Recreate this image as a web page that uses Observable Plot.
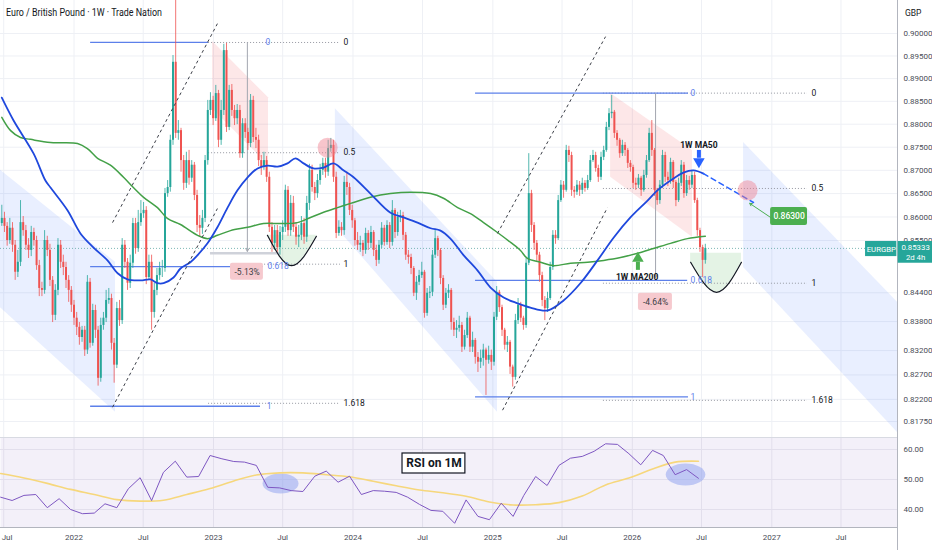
<!DOCTYPE html>
<html>
<head>
<meta charset="utf-8">
<script src="https://cdn.jsdelivr.net/npm/d3@7"></script>
<script src="https://cdn.jsdelivr.net/npm/@observablehq/plot@0.6"></script>
<style>
html,body{margin:0;padding:0;background:#fff;}
#wrap{position:relative;width:932px;height:550px;overflow:hidden;font-family:Roboto,"Liberation Sans",sans-serif;}
#wrap svg{display:block;}
#title{position:absolute;left:6px;top:7px;font-size:10px;color:#131722;white-space:nowrap;transform-origin:left top;}
#gbp{position:absolute;left:905px;top:8px;font-size:8.5px;color:#131722;}
</style>
</head>
<body>
<div id="wrap"><div id="main"></div><div id="rsi"></div><div id="title">Euro / British Pound · 1W · Trade Nation</div><div id="gbp">GBP</div></div>
<script>
// ---------- DATA (EURGBP weekly) ----------
const firstOpen = 0.8586;
const closes = [
.8597,.8580,.8550,.8576,.8540,.8483,.8504,.8588,.8571,.8540,
.8529,.8567,.8550,.8497,.8449,.8445,.8550,.8529,.8466,.8393,
.8445,.8540,.8504,.8493,.8466,.8445,.8414,.8387,.8368,.8347,
.8362,.8321,.8462,.8335,.8403,.8362,.8263,.8372,.8387,.8424,
.8428,.8335,.8290,.8407,.8382,.8540,.8504,.8460,.8502,.8586,
.8533,.8588,.8607,.8614,.8472,.8504,.8399,.8445,.8476,.8491,
.8491,.8650,.8663,.8765,.8936,.8780,.8786,.8721,.8672,.8721,
.8683,.8711,.8646,.8582,.8576,.8597,.8721,.8830,.8852,.8812,
.8867,.8765,.8830,.8962,.8793,.8874,.8830,.8812,.8830,.8736,
.8801,.8782,.8758,.8852,.8771,.8765,.8721,.8706,.8721,.8685,
.8578,.8544,.8571,.8535,.8567,.8578,.8657,.8571,.8629,.8578,
.8557,.8561,.8586,.8557,.8629,.8700,.8663,.8650,.8678,.8700,
.8715,.8696,.8747,.8754,.8685,.8565,.8578,.8571,.8674,.8663,
.8614,.8592,.8550,.8540,.8544,.8529,.8565,.8544,.8567,.8529,
.8508,.8540,.8576,.8546,.8582,.8546,.8614,.8567,.8599,.8603,
.8561,.8519,.8514,.8491,.8439,.8462,.8476,.8483,.8397,.8439,
.8441,.8519,.8554,.8529,.8470,.8414,.8439,.8445,.8378,.8362,
.8366,.8372,.8327,.8351,.8387,.8327,.8341,.8306,.8296,.8304,
.8321,.8300,.8310,.8296,.8389,.8441,.8409,.8362,.8331,.8337,
.8286,.8265,.8382,.8414,.8387,.8372,.8502,.8650,.8582,.8544,
.8519,.8476,.8424,.8407,.8428,.8493,.8561,.8554,.8635,.8668,
.8657,.8743,.8732,.8657,.8653,.8668,.8657,.8672,.8661,.8678,
.8721,.8732,.8704,.8685,.8728,.8743,.8793,.8823,.8826,.8780,
.8765,.8736,.8754,.8743,.8715,.8706,.8672,.8668,.8683,.8657,
.8689,.8721,.8780,.8743,.8657,.8635,.8668,.8732,.8685,.8678,
.8717,.8674,.8635,.8672,.8711,.8650,.8678,.8668,.8689,.8635,
.8571,.8535,.8508,.85333];
const highs = [
.8625,.8610,.8588,.8597,.8588,.8550,.8529,.8635,.8601,.8582,
.8554,.8580,.8576,.8559,.8508,.8462,.8571,.8559,.8542,.8474,
.8457,.8554,.8550,.8519,.8504,.8476,.8453,.8424,.8399,.8378,
.8370,.8370,.8476,.8470,.8416,.8414,.8370,.8387,.8399,.8445,
.8449,.8437,.8345,.8420,.8424,.8554,.8550,.8512,.8519,.8597,
.8597,.8614,.8635,.8631,.8622,.8519,.8519,.8460,.8491,.8504,
.8508,.8661,.8678,.8776,.8951,.9267,.8808,.8791,.8732,.8739,
.8743,.8721,.8717,.8657,.8603,.8614,.8732,.8852,.8869,.8861,
.8885,.8874,.8852,.8976,.8978,.8885,.8887,.8841,.8843,.8841,
.8812,.8812,.8791,.8865,.8861,.8791,.8776,.8732,.8739,.8730,
.8696,.8588,.8582,.8582,.8580,.8592,.8668,.8665,.8646,.8644,
.8588,.8582,.8601,.8597,.8644,.8713,.8711,.8674,.8691,.8713,
.8726,.8726,.8765,.8769,.8765,.8696,.8592,.8588,.8687,.8696,
.8672,.8625,.8597,.8567,.8559,.8550,.8576,.8571,.8580,.8571,
.8540,.8550,.8588,.8582,.8592,.8588,.8635,.8618,.8610,.8614,
.8610,.8567,.8529,.8521,.8495,.8474,.8487,.8504,.8487,.8449,
.8453,.8529,.8571,.8559,.8533,.8476,.8449,.8457,.8449,.8387,
.8382,.8391,.8378,.8362,.8399,.8391,.8358,.8345,.8316,.8321,
.8333,.8325,.8329,.8321,.8399,.8453,.8445,.8414,.8366,.8349,
.8341,.8290,.8395,.8428,.8420,.8391,.8512,.8736,.8657,.8588,
.8550,.8525,.8483,.8432,.8441,.8504,.8571,.8571,.8646,.8678,
.8676,.8754,.8752,.8739,.8665,.8678,.8676,.8683,.8678,.8689,
.8732,.8743,.8739,.8711,.8739,.8752,.8804,.8834,.8863,.8830,
.8786,.8769,.8765,.8760,.8747,.8721,.8711,.8683,.8691,.8687,
.8700,.8732,.8791,.8808,.8747,.8661,.8678,.8743,.8739,.8696,
.8726,.8721,.8678,.8683,.8721,.8717,.8689,.8687,.8700,.8696,
.8640,.8576,.8540,.8542];
const lows = [
.8580,.8567,.8538,.8542,.8525,.8466,.8472,.8495,.8559,.8529,
.8512,.8516,.8538,.8487,.8432,.8432,.8437,.8516,.8453,.8378,
.8382,.8434,.8491,.8476,.8449,.8420,.8399,.8372,.8351,.8331,
.8337,.8308,.8312,.8325,.8329,.8345,.8247,.8255,.8362,.8378,
.8416,.8321,.8253,.8283,.8370,.8374,.8491,.8445,.8449,.8491,
.8521,.8525,.8580,.8597,.8457,.8466,.8362,.8387,.8434,.8466,
.8472,.8483,.8642,.8653,.8754,.8769,.8765,.8696,.8657,.8661,
.8668,.8674,.8635,.8567,.8559,.8563,.8588,.8711,.8819,.8797,
.8806,.8749,.8754,.8819,.8782,.8786,.8817,.8797,.8799,.8726,
.8726,.8769,.8743,.8749,.8760,.8747,.8708,.8689,.8700,.8674,
.8567,.8525,.8529,.8525,.8519,.8550,.8567,.8559,.8559,.8567,
.8540,.8535,.8550,.8542,.8546,.8614,.8653,.8635,.8640,.8668,
.8689,.8683,.8687,.8739,.8674,.8554,.8559,.8559,.8561,.8646,
.8603,.8576,.8538,.8529,.8525,.8516,.8521,.8529,.8533,.8516,
.8495,.8500,.8533,.8538,.8540,.8533,.8538,.8554,.8559,.8588,
.8550,.8508,.8500,.8478,.8432,.8424,.8455,.8470,.8387,.8391,
.8428,.8432,.8512,.8516,.8457,.8403,.8407,.8428,.8362,.8349,
.8345,.8358,.8316,.8321,.8345,.8316,.8316,.8292,.8275,.8283,
.8288,.8228,.8292,.8279,.8288,.8382,.8399,.8349,.8321,.8316,
.8271,.8245,.8259,.8374,.8378,.8362,.8366,.8497,.8567,.8529,
.8504,.8462,.8411,.8382,.8399,.8424,.8487,.8542,.8550,.8631,
.8640,.8653,.8717,.8644,.8640,.8646,.8644,.8648,.8653,.8657,
.8674,.8717,.8696,.8674,.8678,.8721,.8739,.8786,.8812,.8769,
.8752,.8726,.8730,.8730,.8704,.8696,.8661,.8657,.8661,.8644,
.8653,.8683,.8717,.8730,.8644,.8625,.8627,.8661,.8674,.8665,
.8670,.8661,.8622,.8631,.8665,.8640,.8644,.8657,.8661,.8629,
.8559,.8525,.8472,.8500];

// 1W MA50 (week index, price)
const ma50Wk = [0,4.4,11.9,16.3,18.2,24.6,29.4,34.3,39.5,43.3,47,51.9,55.6,58.2,60.5,64.2,66.8,70.5,73.2,76.9,80.6,84.4,88.1,91.9,95.6,99.3,103.1,106.8,109.8,112.8,116.5,120.3,124,127.7,131.5,137.8,145.3,150.2,155.4,160.3,164,167.7,172.6,177.8,182.7,187.6,192.8,197.6,204,210,216.3,222.7,228.7,235,241.4,245.1,250,254.8,258.6,262.3];
const ma50Val = [.8858,.8808,.8736,.8678,.8663,.8614,.8565,.8535,.8508,.8481,.8468,.8466,.8468,.8460,.8460,.8472,.8491,.8504,.8519,.8544,.8578,.8620,.8657,.8685,.8704,.8710,.8708,.8715,.8726,.8715,.8704,.8706,.8715,.8700,.8685,.8650,.8609,.8599,.8588,.8576,.8571,.8554,.8519,.8487,.8451,.8430,.8418,.8409,.8403,.8424,.8460,.8508,.8556,.8599,.8635,.8657,.8678,.8695,.8700,.8693];
const ma50ProjWk = [262.3, 281];
const ma50ProjVal = [.8693, .8631];
// 1W MA200 (week index, price)
const ma200Wk = [0,3.3,7,10.7,18.2,28.3,32,35.8,40.6,45.5,49.2,53,58.2,61.9,66.8,73.2,76.9,80.6,85.5,91.9,97.8,104.2,110.5,115.4,120.3,125.5,130.4,137.8,145.3,152.8,160.3,165.1,170.4,175.2,180.1,185.3,190.2,193.9,196.5,201.4,206.2,212.6,219,225,231.3,237.7,243.6,250,256.3,263];
const ma200Val = [.8815,.8786,.8771,.8767,.8760,.8758,.8747,.8726,.8711,.8685,.8663,.8642,.8620,.8597,.8584,.8561,.8554,.8561,.8571,.8578,.8586,.8586,.8588,.8599,.8610,.8620,.8629,.8642,.8650,.8653,.8650,.8640,.8620,.8607,.8588,.8567,.8546,.8529,.8512,.8504,.8497,.8502,.8504,.8508,.8514,.8523,.8533,.8544,.8554,.8559];

// RSI on 1M: monthly values starting Jun 2021
const rsiValues = [44.1,43.0,44.7,45.0,40.6,43.6,40.0,38.6,38.8,41.9,
40.6,46.9,50.6,43.0,52.4,56.1,50.8,51.0,58.0,56.9,
56.0,55.8,54.7,47.4,47.2,46.3,46.0,51.1,52.8,49.1,
51.1,45.0,46.3,46.1,45.7,44.1,41.7,39.7,39.4,35.4,
43.2,37.7,36.6,42.1,37.7,44.7,51.0,48.0,54.7,57.1,
57.7,59.4,61.9,61.7,58.6,54.9,59.7,58.0,51.6,53.3,50.4];
// RSI-based MA, every second month from Jun 2021
const rsiMAValues = [52.0,50.5,48.7,46.7,45.0,43.3,42.8,43.1,45.0,47.0,49.5,51.5,52.2,52.2,51.6,50.9,49.4,47.9,46.5,45.6,44.4,42.5,41.5,41.6,42.3,44.5,48.2,50.5,53.5,55.8,56.1];

// axis ticks
const priceTicks = [0.9,0.895,0.89,0.885,0.88,0.875,0.87,0.865,0.86,0.855,0.844,0.838,0.832,0.827,0.822,0.8175];
const tickDates = [[2021,6],[2022,0],[2022,6],[2023,0],[2023,6],[2024,0],[2024,6],[2025,0],[2025,6],[2026,0],[2026,6],[2027,0],[2027,6]];
const tickLabels = ["Jul","2022","Jul","2023","Jul","2024","Jul","2025","Jul","2026","Jul","2027","Jul"];
const rsiTicks = [60,50,40];

// ---------- BUILD ----------
const D0 = Date.UTC(2021,5,26), WEEK = 7*864e5;
const wk = t => (t - D0) / WEEK;
const xDomain = [-0.486, 334.84];
const yDomain = [0.814271, 0.907388];
const UP = "#26a69a", DN = "#ef5350";
const FONT = "Roboto, 'Liberation Sans', sans-serif";

const candles = closes.map((c,i) => {
  const o = i ? closes[i-1] : firstOpen;
  return {i, o, c, h: Math.max(highs[i], o, c), l: Math.min(lows[i], o, c)};
});
const col = d => d.c >= d.o ? UP : DN;
const ma50 = ma50Wk.map((x,k)=>({x, y: ma50Val[k]}));
const ma50p = ma50ProjWk.map((x,k)=>({x, y: ma50ProjVal[k]}));
const ma200 = ma200Wk.map((x,k)=>({x, y: ma200Val[k]}));
const ticksWk = tickDates.map(([y,m]) => wk(Date.UTC(y,m,1)));
const labelOf = new Map(ticksWk.map((w,k)=>[w, tickLabels[k]]));

const band = (a,b,lo1,hi1,lo2,hi2) => [{x:a,y1:lo1,y2:hi1},{x:b,y1:lo2,y2:hi2}];
const bandOpts = (fill, op) => ({x:"x", y1:"y1", y2:"y2", fill, fillOpacity: op});
const BLUEFIB = "#5d80ea";
const hline = (y,x1,x2) => ({y,x1,x2});

const leftArc = [{x:99.3,y:.8561,t:.8561},{x:108.3,y:.8497,t:.8561},{x:117.6,y:.8559,t:.8561}];
const rightArc = [{x:257.5,y:.8504,t:.8523},{x:267.2,y:.8441,t:.8523},{x:276.5,y:.8504,t:.8523}];

const mainPlot = Plot.plot({
  width: 932, height: 437, marginLeft: 0, marginRight: 35, marginTop: 0, marginBottom: 0,
  style: {background: "#ffffff", fontFamily: FONT},
  x: {domain: xDomain, axis: null},
  y: {type: "log", domain: yDomain, axis: null},
  marks: [
    Plot.gridY(priceTicks, {stroke: "#eef0f5", strokeOpacity: 1}),
    Plot.gridX(ticksWk, {stroke: "#eef0f5", strokeOpacity: 1}),
    // blue descending channels
    Plot.areaY(band(-0.49, 42.5, .8409, .8700, .8194, .8504), bandOpts("#2962ff", 0.1)),
    Plot.areaY(band(124.7, 185.3, .8580, .8834, .8194, .8462), bandOpts("#2962ff", 0.1)),
    Plot.areaY(band(277.3, 334.84, .8493, .8760, .8153, .8420), bandOpts("#2962ff", 0.1)),
    // pink channels
    Plot.areaY(band(78.8, 99.7, .8834, .8982, .8711, .8858), bandOpts("#f23645", 0.12)),
    Plot.areaY(band(227.6, 258.2, .8685, .8867, .8557, .8743), bandOpts("#f23645", 0.12)),
    // cup fills
    Plot.areaY(leftArc, {x:"x", y1:"y", y2:"t", curve:"natural", fill:"#4caf50", fillOpacity:0.15}),
    Plot.areaY(rightArc, {x:"x", y1:"y", y2:"t", curve:"natural", fill:"#4caf50", fillOpacity:0.15}),
    // gray fib (dotted)
    Plot.ruleY([hline(.8980,77.3,126.6),hline(.8738,77.3,126.6),hline(.8500,96,126.6),hline(.8212,77.3,126.6),
                hline(.8868,224.9,301.2),hline(.8661,224.9,301.2),hline(.8460,224.9,301.2),hline(.8218,224.9,301.2)],
      {y:"y", x1:"x1", x2:"x2", stroke:"#9598a1", strokeWidth:1, strokeDasharray:"1,2"}),
    // blue fib
    Plot.ruleY([hline(.8980,33.2,77.3),hline(.8495,33.2,97.8),hline(.8206,33.2,96.7),
                hline(.8868,177.1,256.7),hline(.8466,177.1,256.4),hline(.8225,177.1,256.7)],
      {y:"y", x1:"x1", x2:"x2", stroke:BLUEFIB, strokeWidth:1.3}),
    // current price line
    Plot.ruleY([0.85333], {stroke:"#5fa8a3", strokeOpacity:0.8, strokeDasharray:"1,2", strokeWidth:1}),
    // measure tools
    Plot.ruleY([hline(.8523,78,104.2)], {y:"y", x1:"x1", x2:"x2", stroke:"#cfd2da", strokeWidth:2.5}),
    Plot.arrow([{x1:91.8,y1:.8980,x2:91.8,y2:.8527},{x1:244.4,y1:.8867,x2:244.4,y2:.8472}],
      {x1:"x1", y1:"y1", x2:"x2", y2:"y2", stroke:"#a3a6af", strokeWidth:1, headLength:5}),
    // candles
    Plot.ruleX(candles, {x:"i", y1:"l", y2:"h", stroke: col, strokeWidth: 0.8, clip: true}),
    Plot.ruleX(candles, {x:"i", y1:"o", y2:"c", stroke: col, strokeWidth: 2}),
    // moving averages
    Plot.line(ma200, {x:"x", y:"y", stroke:"#43a047", strokeWidth:1.5, curve:"catmull-rom"}),
    Plot.line(ma50, {x:"x", y:"y", stroke:"#1f48dd", strokeWidth:1.8, curve:"catmull-rom"}),
    Plot.line(ma50p, {x:"x", y:"y", stroke:"#2962ff", strokeWidth:1.6, strokeDasharray:"5,4"}),
    // ascending dashed channels
    Plot.link([{x1:41.4,y1:.8588,x2:80.6,y2:.9022},{x1:41.4,y1:.8204,x2:80.6,y2:.8618},
               {x1:185.3,y1:.8565,x2:225.7,y2:.8993},{x1:187.2,y1:.8198,x2:226.4,y2:.8620}],
      {x1:"x1", y1:"y1", x2:"x2", y2:"y2", stroke:"#3c3f48", strokeWidth:1, strokeDasharray:"3,3"}),
    // cups
    Plot.line(leftArc, {x:"x", y:"y", curve:"natural", stroke:"#131722", strokeWidth:1.2}),
    Plot.line(rightArc, {x:"x", y:"y", curve:"natural", stroke:"#131722", strokeWidth:1.2}),
    // pink circles
    Plot.dot([{x:121.8,y:.8749},{x:278.8,y:.8657}], {x:"x", y:"y", r:10, fill:"#ef7f8f", fillOpacity:0.45}),
    // fib labels
    Plot.text([{x:127.7,y:.8980,t:"0"},{x:127.7,y:.8738,t:"0.5"},{x:127.7,y:.8500,t:"1"},{x:127.7,y:.8212,t:"1.618"},
               {x:302.7,y:.8868,t:"0"},{x:302.7,y:.8661,t:"0.5"},{x:302.7,y:.8460,t:"1"},{x:302.7,y:.8218,t:"1.618"}],
      {x:"x", y:"y", text:"t", textAnchor:"start", fontSize:8.5, fill:"#131722"}),
    Plot.text([{x:98.6,y:.8980,t:"0"},{x:99.3,y:.8495,t:"0.618"},{x:99,y:.8206,t:"1"},
               {x:257.5,y:.8868,t:"0"},{x:257.5,y:.8466,t:"0.618"},{x:257.5,y:.8225,t:"1"}],
      {x:"x", y:"y", text:"t", textAnchor:"start", fontSize:8.5, fill:BLUEFIB}),
    // percentage boxes
    Plot.rect([{x1:85.5,x2:97.8,y1:.8466,y2:.8502},{x1:238,x2:250.7,y1:.8403,y2:.8439}],
      {x1:"x1", x2:"x2", y1:"y1", y2:"y2", fill:"#f6c9ce", rx:2}),
    Plot.text([{x:91.7,y:.8484,t:"-5.13%"},{x:244.4,y:.8421,t:"-4.64%"}],
      {x:"x", y:"y", text:"t", fontSize:8.5, fill:"#3b3d45"}),
    // MA callouts
    Plot.ruleX([{x:260.6,y1:.8743,y2:.8726}], {x:"x", y1:"y1", y2:"y2", stroke:"#2962ff", strokeWidth:4}),
    Plot.dot([{x:260.6,y:.8719}], {x:"x", y:"y", symbol:"triangle", r:4.3, rotate:180, fill:"#2962ff"}),
    Plot.ruleX([{x:237.8,y1:.8504,y2:.8487}], {x:"x", y1:"y1", y2:"y2", stroke:"#4caf50", strokeWidth:4}),
    Plot.dot([{x:237.8,y:.8512}], {x:"x", y:"y", symbol:"triangle", r:4.3, fill:"#4caf50"}),
    Plot.text([{x:260.6,y:.8754,t:"1W MA50"},{x:237.5,y:.8472,t:"1W MA200"}],
      {x:"x", y:"y", text:"t", fontSize:8.5, fontWeight:"bold", fill:"#131722"}),
    // target label
    Plot.arrow([{x1:287.4,y1:.8599,x2:279.6,y2:.8629}], {x1:"x1", y1:"y1", x2:"x2", y2:"y2", stroke:"#4caf50", strokeWidth:1, headLength:4}),
    Plot.rect([{x1:287.4,x2:301.2,y1:.8582,y2:.8620}], {x1:"x1", x2:"x2", y1:"y1", y2:"y2", fill:"#4caf50", rx:2}),
    Plot.text([{x:294.3,y:.8601,t:"0.86300"}], {x:"x", y:"y", text:"t", fontSize:8.5, fontWeight:500, fill:"#ffffff"}),
    // right axis
    Plot.axisY(priceTicks, {anchor:"right", tickSize:0, tickPadding:6, tickFormat:d3.format(".5f"), fontSize:8, fill:"#4a4d57", label:null}),
    Plot.ruleX([xDomain[1]], {stroke:"#b2b5be", strokeWidth:1}),
    // current price tag
    Plot.rect([{x1:322.9,x2:334.6,y1:.8516,y2:.8548}], {x1:"x1", x2:"x2", y1:"y1", y2:"y2", fill:"#26a69a"}),
    Plot.rect([{x1:335.1,x2:348.5,y1:.8502,y2:.8548}], {x1:"x1", x2:"x2", y1:"y1", y2:"y2", fill:"#26a69a"}),
    Plot.text([{x:328.8,y:.8532,t:"EURGBP"},{x:341.6,y:.8535,t:"0.85333"},{x:341.6,y:.8514,t:"2d 4h"}],
      {x:"x", y:"y", text:"t", fontSize:7.8, fill:"#ffffff"})
  ]
});
document.getElementById("main").appendChild(mainPlot);

// ---------- RSI pane ----------
const rsiPts = rsiValues.map((v,k)=>({x: wk(Date.UTC(2021,5+k,23)), y: v}));
const maPts = rsiMAValues.map((v,j)=>({x: wk(Date.UTC(2021,5+2*j,23)), y: v}));
const ellipseSym = {draw(ctx, size){
  const r = Math.sqrt(size/Math.PI), rx = r*1.8, ry = r, k = 0.5523;
  ctx.moveTo(rx,0);
  ctx.bezierCurveTo(rx, ry*k, rx*k, ry, 0, ry);
  ctx.bezierCurveTo(-rx*k, ry, -rx, ry*k, -rx, 0);
  ctx.bezierCurveTo(-rx, -ry*k, -rx*k, -ry, 0, -ry);
  ctx.bezierCurveTo(rx*k, -ry, rx, -ry*k, rx, 0);
  ctx.closePath();
}};
const axisXOpts = {anchor:"bottom", tickSize:0, tickPadding:7, tickFormat:d=>labelOf.get(d), fontSize:8, fill:"#4a4d57", label:null};

const rsiPlot = Plot.plot({
  width: 932, height: 113, marginLeft: 0, marginRight: 35, marginTop: 0, marginBottom: 23,
  style: {background: "#ffffff", fontFamily: FONT},
  x: {domain: xDomain, axis: null},
  y: {domain: [34, 64], axis: null},
  marks: [
    Plot.frame({fill:"#7e57c2", fillOpacity:0.09, stroke:null}),
    Plot.gridX(ticksWk, {stroke:"#e2dfec", strokeOpacity:1}),
    Plot.gridY(rsiTicks, {stroke:"#e2dfec", strokeOpacity:1}),
    Plot.dot([{x:104.2,y:48.7}], {x:"x", y:"y", r:10, symbol:ellipseSym, fill:"#94a6f0", fillOpacity:0.55}),
    Plot.dot([{x:255.6,y:51.7}], {x:"x", y:"y", r:11, symbol:ellipseSym, fill:"#94a6f0", fillOpacity:0.55}),
    Plot.line(maPts, {x:"x", y:"y", stroke:"#f6d77c", strokeWidth:1.6, curve:"catmull-rom"}),
    Plot.line(rsiPts, {x:"x", y:"y", stroke:"#7e57c2", strokeWidth:1}),
    Plot.rect([{x1:149.8,x2:173.3,y1:52.0,y2:58.67}], {x1:"x1", x2:"x2", y1:"y1", y2:"y2", fill:"#ffffff", stroke:"#131722", strokeWidth:1.2}),
    Plot.text([{x:161.6,y:55.3,t:"RSI on 1M"}], {x:"x", y:"y", text:"t", fontSize:12, fontWeight:"bold", fill:"#131722"}),
    Plot.ruleY([64], {stroke:"#d8dae2"}),
    Plot.ruleY([34], {stroke:"#b2b5be"}),
    Plot.ruleX([xDomain[1]], {y1:26, y2:64, stroke:"#b2b5be"}),
    Plot.axisX(ticksWk.slice(0,1), {...axisXOpts, textAnchor:"start", dx:-2}),
    Plot.axisX(ticksWk.slice(1), axisXOpts),
    Plot.axisY(rsiTicks, {anchor:"right", tickSize:0, tickPadding:6, tickFormat:d=>d.toFixed(2), fontSize:8, fill:"#4a4d57", label:null})
  ]
});
document.getElementById("rsi").appendChild(rsiPlot);

// fit title width
const t = document.getElementById("title");
const w = t.getBoundingClientRect().width;
if (w > 0) t.style.transform = `scaleX(${156 / w})`;
</script>
</body>
</html>
